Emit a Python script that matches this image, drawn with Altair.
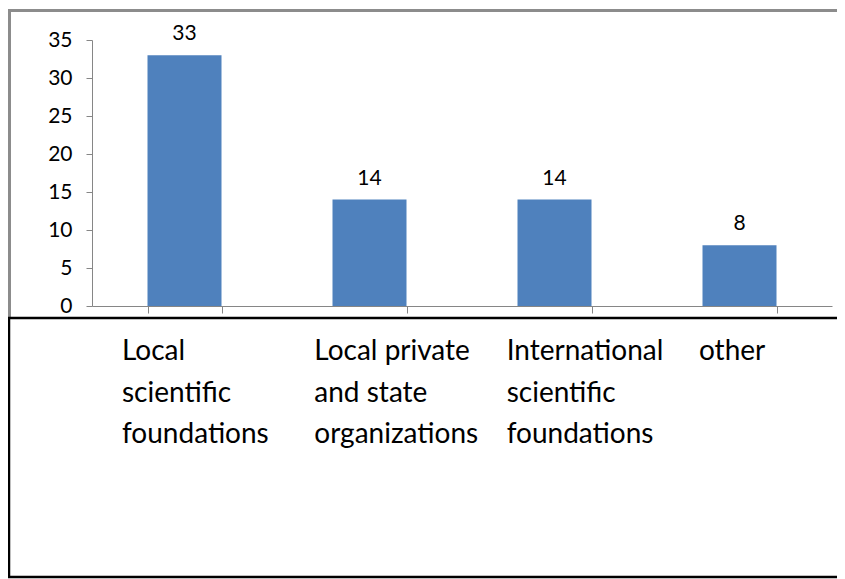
import altair as alt
import pandas as pd

categories = ["Local scientific foundations", "Local private and state organizations",
              "International scientific foundations", "other"]
values = [33, 14, 14, 8]
label_lines = ["Local\nscientific\nfoundations", "Local private\nand state\norganizations",
               "International\nscientific\nfoundations", "other"]
y_ticks = [0, 5, 10, 15, 20, 25, 30, 35]

df = pd.DataFrame({"category": categories, "value": values, "label": label_lines})

FONT = "Lato"
AX = "#868686"

x_enc = alt.X("category:N", sort=categories,
              scale=alt.Scale(paddingInner=0.6, paddingOuter=0.3),
              axis=alt.Axis(title=None, labels=False, tickBand="extent", tickSize=7,
                            domainColor=AX, tickColor=AX))
y_enc = alt.Y("value:Q", scale=alt.Scale(domain=[0, 35], nice=False),
              axis=alt.Axis(values=y_ticks, title=None, grid=False, tickSize=6,
                            labelPadding=14, labelFont=FONT, labelFontSize=21,
                            labelColor="black", domainColor=AX, tickColor=AX))

base = alt.Chart(df)
bars = base.mark_bar(color="#4F81BD").encode(x=x_enc, y=y_enc)
vlabels = base.mark_text(font=FONT, fontSize=21, dy=-15, baseline="alphabetic",
                         color="black").encode(x=x_enc, y=y_enc, text="value:Q")
inner = alt.layer(bars, vlabels)

clabels = alt.Chart(df).mark_text(align="left", baseline="alphabetic", lineBreak="\n",
                                  lineHeight=41.5, font=FONT, fontSize=28,
                                  color="black").encode(
    x=alt.X("category:N", sort=categories,
            scale=alt.Scale(type="point", range=[30, 607], padding=0), axis=None),
    y=alt.value(320),
    text="label:N",
)

frame_data = alt.Data(values=[{"k": 1}])
fc = alt.Chart(frame_data)
gray_top = fc.mark_rule(color="#8c8c8c", strokeWidth=3).encode(
    x=alt.value(-84), x2=alt.value(760), y=alt.value(-29.5))
gray_left = fc.mark_rule(color="#8c8c8c", strokeWidth=3).encode(
    x=alt.value(-82.5), y=alt.value(-31), y2=alt.value(278))
box_fill = fc.mark_rect(fill="white").encode(
    x=alt.value(-84), x2=alt.value(760), y=alt.value(278), y2=alt.value(537))
box_top = fc.mark_rule(color="black", strokeWidth=2.5).encode(
    x=alt.value(-84), x2=alt.value(760), y=alt.value(278))
box_bottom = fc.mark_rule(color="black", strokeWidth=2.5).encode(
    x=alt.value(-84), x2=alt.value(760), y=alt.value(537))
box_left = fc.mark_rule(color="black", strokeWidth=2.5).encode(
    x=alt.value(-83), y=alt.value(278), y2=alt.value(538))

chart = alt.layer(gray_top, gray_left, box_fill, box_top, box_bottom, box_left,
                  inner, clabels).resolve_scale(x="independent").properties(
    width=740, height=266,
    autosize=alt.AutoSizeParams(type="none"),
    padding={"left": 84, "top": 32, "right": 5, "bottom": 273},
    background="white",
).configure_view(strokeWidth=0)

chart.save("out.html", embed_options={"renderer": "svg", "actions": False})
